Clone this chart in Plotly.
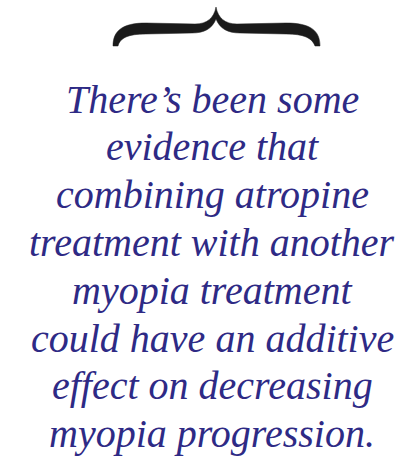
"""Pull quote: brace ornament above an italic serif quotation."""

import plotly.graph_objects as go

W, H = 411, 459

QUOTE_LINES = [
    "There’s been some",
    "evidence that",
    "combining atropine",
    "treatment with another",
    "myopia treatment",
    "could have an additive",
    "effect on decreasing",
    "myopia progression.",
]

TEXT_COLOR = "#2E2A85"
BRACE_COLOR = "#1a1a1a"
FONT_FAMILY = "Liberation Serif, Times New Roman, serif"
FONT_SIZE = 40
FIRST_LINE_Y = 99
LINE_STEP = 47.8
TEXT_X = 212

# accolade horizontale (ornement)
BRACE_PATH = (
    "M 113 46 C 113 31 122 23 146 23 L 195 24 "
    "C 207 24 214 18 216 7 "
    "C 218 18 225 24 237 24 L 286 23 "
    "C 311 23 320 31 320 46 "
    "L 315 46 C 312 38 304 34 286 34 L 240 33 "
    "C 228 33 220 29 216 19 "
    "C 212 29 204 33 192 33 L 146 34 "
    "C 128 34 120 38 118 46 Z"
)

fig = go.Figure()

for i, line in enumerate(QUOTE_LINES):
    fig.add_annotation(
        x=TEXT_X,
        y=FIRST_LINE_Y + i * LINE_STEP,
        xref="x",
        yref="y",
        text=line,
        showarrow=False,
        xanchor="center",
        yanchor="middle",
        font=dict(family=FONT_FAMILY, size=FONT_SIZE, color=TEXT_COLOR, style="italic"),
    )

fig.add_shape(
    type="path",
    path=BRACE_PATH,
    xref="x",
    yref="y",
    fillcolor=BRACE_COLOR,
    line=dict(color=BRACE_COLOR, width=0.5),
)

fig.update_layout(
    width=W,
    height=H,
    margin=dict(l=0, r=0, t=0, b=0),
    paper_bgcolor="white",
    plot_bgcolor="white",
    showlegend=False,
    xaxis=dict(range=[0, W], visible=False, fixedrange=True),
    yaxis=dict(range=[H, 0], visible=False, fixedrange=True),
)

# la page a une marge de 8px par defaut : on la retire
fig.write_html(
    "out.html",
    config={"displayModeBar": False},
    post_script="document.body.style.margin='0';",
)
